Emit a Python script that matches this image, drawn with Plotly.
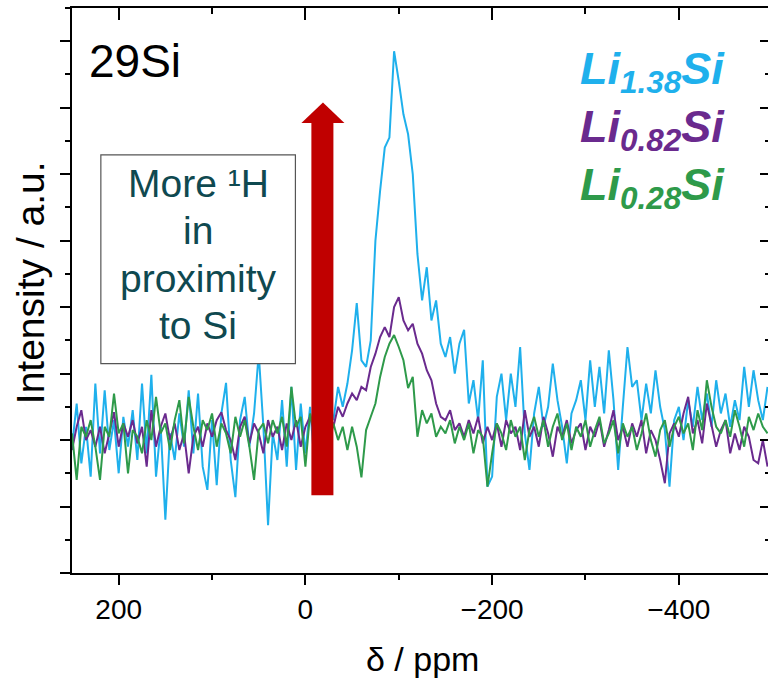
import numpy as np
import plotly.graph_objects as go

# Chemical shift grid (ppm), 5 ppm steps from 250 down to -495
shift_ppm = np.arange(250, -500, -5)

# 29Si spectra (arbitrary intensity units, baseline at 0)
li138_si = [
    -0.10, 0.55, -0.35, 0.20, -0.55, 0.85, -0.20, 0.75, -0.15, 0.30,
    -0.50, 0.35, -0.10, 0.45, -0.30, 0.85, -0.20, 0.98, -0.55, 0.20,
    -1.20, 0.10, -0.30, 0.40, -0.10, 0.75, -0.20, 0.70, -0.40, -0.75,
    0.30, -0.68, 0.40, 0.86, -0.30, -0.86, 0.30, 0.65, -0.10, 0.40,
    1.30, 0.20, -1.28, 0.10, -0.30, 0.60, -0.40, 0.80, -0.45, 0.55,
    -0.20, 0.50, -0.40, 0.40, 0.10, 0.60, 0.30, 0.80, 0.50, 0.85,
    1.35, 2.06, 1.20, 1.10, 1.50, 3.00, 3.75, 4.40, 4.55, 5.85,
    5.40, 4.90, 4.60, 4.00, 2.80, 2.10, 2.60, 1.80, 2.10, 1.45,
    1.25, 1.55, 1.00, 1.45, 1.66, 0.55, 0.90, 0.30, 1.20, -0.70,
    -0.55, 0.65, 1.00, 0.30, 1.00, 0.50, 1.40, 0.10, -0.45, 0.40,
    0.80, 0.20, 0.50, 1.15, 0.60, 0.20, -0.35, 0.40, 0.60, 0.90,
    0.30, 1.20, 0.50, 1.10, 0.40, 1.35, 0.60, -0.45, 0.50, 1.40,
    0.80, 0.90, 0.30, 0.85, 0.40, 1.05, 0.50, 0.15, -0.70, 0.30,
    0.50, 0.00, 0.60, 0.20, 0.80, 0.30, 0.70, 0.20, 0.90, 0.40,
    0.70, 0.20, 0.60, 0.30, 1.10, 0.50, 1.05, 0.60, 0.30, 0.80,
]

li082_si = [
    -0.15, 0.20, 0.45, 0.00, 0.15, -0.10, 0.20, -0.20, 0.10, 0.42,
    -0.10, 0.25, 0.05, 0.30, -0.05, 0.20, -0.40, 0.45, -0.10, 0.20,
    0.40, 0.00, 0.25, -0.15, 0.10, -0.50, 0.05, 0.20, -0.10, 0.25,
    0.05, 0.30, 0.42, 0.15, 0.00, -0.30, 0.20, 0.35, -0.05, 0.25,
    0.10, -0.20, 0.30, 0.05, 0.20, -0.15, 0.25, 0.00, 0.30, -0.10,
    0.20, 0.35, 0.10, 0.30, 0.25, 0.45, 0.20, 0.50, 0.35, 0.55,
    0.70, 0.60, 0.80, 0.75, 1.10, 1.30, 1.55, 1.70, 1.55, 2.00,
    2.15, 1.80, 1.65, 1.75, 1.45, 1.30, 1.05, 0.90, 0.55, 0.35,
    0.30, 0.45, 0.15, 0.25, 0.05, 0.30, 0.10, 0.35, -0.05, 0.20,
    0.00, 0.25, -0.10, 0.30, 0.10, 0.20, -0.15, 0.45, 0.05, 0.20,
    -0.10, 0.35, 0.10, -0.25, 0.20, 0.05, 0.30, -0.05, 0.15, 0.25,
    -0.15, 0.20, 0.05, 0.30, -0.10, 0.15, 0.45, 0.00, 0.20, -0.10,
    0.25, 0.05, 0.30, -0.20, 0.15, 0.00, -0.30, -0.65, 0.10, 0.25,
    0.05, 0.40, 0.65, 0.10, 0.30, -0.05, 0.55, 0.20, -0.10, 0.15,
    0.30, -0.20, 0.10, -0.15, 0.20, 0.05, -0.30, -0.35, 0.00, -0.40,
]

li028_si = [
    0.10, -0.60, 0.20, 0.05, 0.30, -0.10, -0.60, 0.20, 0.05, 0.70,
    0.10, 0.25, -0.50, 0.15, 0.05, -0.20, 0.30, 0.00, 0.65, 0.10,
    0.25, -0.15, 0.30, 0.60, -0.05, 0.65, 0.20, -0.15, 0.30, 0.15,
    0.40, -0.10, 0.25, 0.10, -0.20, 0.35, 0.05, 0.30, -0.10, -0.60,
    0.15, 0.25, -0.05, 0.30, 0.10, 0.35, -0.10, 0.80, 0.20, 0.35,
    -0.40, 0.40, 0.10, 0.35, 0.05, -0.10, 0.25, 0.00, 0.20, -0.15,
    0.20, -0.10, -0.56, 0.15, 0.35, 0.55, 0.95, 1.25, 1.45, 1.58,
    1.40, 1.20, 0.78, 0.95, 0.05, 0.45, 0.25, 0.40, 0.05, 0.20,
    0.10, 0.30, -0.05, 0.20, 0.00, 0.25, -0.20, 0.15, 0.05, -0.70,
    -0.20, 0.25, 0.10, -0.15, 0.30, 0.05, 0.20, -0.30, 0.15, 0.35,
    0.05, 0.30, -0.10, 0.20, 0.40, 0.00, 0.25, -0.15, 0.20, 0.05,
    0.30, -0.10, 0.15, 0.35, -0.05, 0.10, 0.30, -0.20, 0.25, 0.05,
    0.20, -0.15, 0.10, 0.40, 0.00, -0.25, 0.15, 0.30, -0.10, 0.20,
    0.35, 0.10, 0.25, -0.15, 0.45, 0.15, 0.90, 0.50, 0.20, 0.10,
    0.30, 0.05, 0.45, 0.20, -0.10, 0.35, 0.15, 0.40, 0.20, 0.10,
]

series_names = ["Li<sub>1.38</sub>Si", "Li<sub>0.82</sub>Si", "Li<sub>0.28</sub>Si"]
series_values = [li138_si, li082_si, li028_si]
series_colors = ["#1fb0ec", "#6a2a8e", "#2e9a4a"]

X_RANGE = [250, -495.5]
Y_RANGE = [-2, 6.5]
FONT = "Liberation Sans, Arial, sans-serif"
BOX_TEXT = "#0f4950"

fig = go.Figure()
for name, vals, col in zip(series_names, series_values, series_colors):
    fig.add_trace(go.Scatter(
        x=shift_ppm, y=vals, mode="lines", name=name,
        line=dict(color=col, width=2), showlegend=False, hoverinfo="skip",
    ))

# empty trace so the mirrored top / right axes get drawn
fig.add_trace(go.Scatter(x=[], y=[], xaxis="x2", yaxis="y2", showlegend=False))

axis_common = dict(showgrid=False, zeroline=False, linecolor="black", linewidth=2,
                   tickcolor="black", tickwidth=2)

fig.update_layout(
    width=768, height=682,
    margin=dict(l=72, r=0, t=8, b=109),
    paper_bgcolor="white", plot_bgcolor="white",
    font=dict(family=FONT, color="black"),
    xaxis=dict(range=X_RANGE, showline=True, ticks="outside", ticklen=10,
               tick0=0, dtick=200, tickfont=dict(size=28),
               minor=dict(dtick=100, tick0=0, ticks="outside", ticklen=5,
                          tickcolor="black", tickwidth=2),
               **axis_common),
    xaxis2=dict(range=X_RANGE, overlaying="x", side="top", showline=True,
                ticks="inside", ticklen=12, tick0=0, dtick=200, showticklabels=False,
                minor=dict(dtick=100, tick0=0, ticks="inside", ticklen=6,
                           tickcolor="black", tickwidth=2),
                **axis_common),
    yaxis=dict(range=Y_RANGE, showline=True, ticks="outside", ticklen=10,
               tick0=0, dtick=1, showticklabels=False,
               minor=dict(dtick=0.5, tick0=0, ticks="outside", ticklen=5,
                          tickcolor="black", tickwidth=2),
               **axis_common),
    yaxis2=dict(range=Y_RANGE, overlaying="y", side="right", showline=False,
                ticks="inside", ticklen=8, tick0=0, dtick=1, showticklabels=False,
                minor=dict(dtick=0.5, tick0=0, ticks="inside", ticklen=3,
                           tickcolor="black", tickwidth=2),
                **axis_common),
)

# red arrow: shaft and head
ARROW = "#c00000"
fig.add_shape(type="rect", xref="x", yref="y", x0=-6.4, x1=-30.0, y0=-0.83, y1=4.78,
              fillcolor=ARROW, line=dict(width=0), layer="above")
fig.add_shape(type="path", xref="x", yref="y",
              path="M 4.3,4.77 L -41.8,4.77 L -18.8,5.08 Z",
              fillcolor=ARROW, line=dict(width=0), layer="above")

# annotation box
fig.add_shape(type="rect", xref="x", yref="y", x0=219.1, x1=10.7, y0=1.15, y1=4.29,
              fillcolor="white", line=dict(color="#555555", width=1.2), layer="above")
box_lines = ["More ¹H", "in", "proximity", "to Si"]
box_y = [3.86, 3.15, 2.43, 1.72]
for txt, yy in zip(box_lines, box_y):
    fig.add_annotation(x=115, y=yy, xref="x", yref="y", text=txt, showarrow=False,
                       xanchor="center", yanchor="middle",
                       font=dict(size=39, color=BOX_TEXT, family=FONT))

# nucleus label
fig.add_annotation(x=0.022, y=0.906, xref="paper", yref="paper", text="29Si",
                   showarrow=False, xanchor="left", yanchor="middle",
                   font=dict(size=46, color="black", family=FONT))

# sample labels
legend_y = [0.887, 0.785, 0.683]
for name, col, yy in zip(series_names, series_colors, legend_y):
    fig.add_annotation(x=0.727, y=yy, xref="paper", yref="paper",
                       text="<b><i>" + name + "</i></b>", showarrow=False,
                       xanchor="left", yanchor="middle",
                       font=dict(size=45, color=col, family=FONT))

# axis titles
fig.add_annotation(x=0.5036, y=-0.153, xref="paper", yref="paper", text="δ / ppm",
                   showarrow=False, xanchor="center", yanchor="middle",
                   font=dict(size=34, color="black", family=FONT))
fig.add_annotation(x=-0.0603, y=0.513, xref="paper", yref="paper", text="Intensity / a.u.",
                   showarrow=False, textangle=-90, xanchor="center", yanchor="middle",
                   font=dict(size=39, color="black", family=FONT))

fig.write_html("out.html")
